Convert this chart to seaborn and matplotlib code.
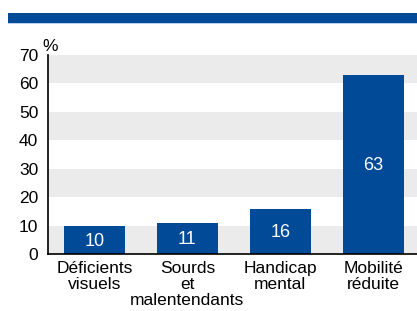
import matplotlib
matplotlib.use('Agg')
import matplotlib.pyplot as plt
import seaborn as sns
import pandas as pd
from matplotlib.patches import Rectangle

categories = ['Déficients\nvisuels', 'Sourds\net\nmalentendants', 'Handicap\nmental', 'Mobilité\nréduite']
values = [10, 11, 16, 63]
yticks = [0, 10, 20, 30, 40, 50, 60, 70]

blue = '#004a98'

sns.set_style('white')
plt.rcParams['font.family'] = ['Liberation Sans', 'DejaVu Sans']
plt.rcParams['text.color'] = 'black'
plt.rcParams['xtick.color'] = 'black'
plt.rcParams['ytick.color'] = 'black'

df = pd.DataFrame({'cat': categories, 'val': values})

fig = plt.figure(figsize=(4.17, 3.11), dpi=100)
ax = fig.add_axes([48 / 417, 57 / 311, 1 - 48 / 417, 199 / 311])

# alternating grey bands
for lo in range(0, 70, 20):
    ax.axhspan(lo, lo + 10, color='#ebebeb', zorder=0, lw=0)

sns.barplot(data=df, x='cat', y='val', color=blue, saturation=1, width=0.656,
            linewidth=0, ax=ax, zorder=2)

for i, v in enumerate(values):
    ax.text(i, v / 2 - 0.5, str(v), ha='center', va='center', color='white', fontsize=13, zorder=3)

ax.set_ylim(0, 70)
ax.set_xlim(-0.5, 3.47)
ax.set_yticks(yticks)
ax.set_yticklabels([str(t) for t in yticks], fontsize=12.5)
ax.tick_params(axis='y', direction='out', length=5, width=1, color='black', pad=2)
ax.tick_params(axis='x', length=0, pad=5)
ax.set_xticks(range(len(categories)))
ax.set_xticklabels(categories, fontsize=12.5, linespacing=1.08)
ax.set_xlabel('')
ax.set_ylabel('')
for s in ['top', 'right']:
    ax.spines[s].set_visible(False)
for s in ['left', 'bottom']:
    ax.spines[s].set_color('black')
    ax.spines[s].set_linewidth(1.2)
ax.text(-0.015, 1.005, '%', transform=ax.transAxes, ha='left', va='bottom', fontsize=12.5)

# header band
fig.patches.append(Rectangle((8 / 417, (311 - 23) / 311), 1, 10 / 311, transform=fig.transFigure,
                             color=blue, lw=0))
fig.patches.append(Rectangle((8 / 417, (311 - 24) / 311), 1, 1 / 311, transform=fig.transFigure,
                             color='#b8d2ee', lw=0))

fig.savefig('out.png', dpi=100)
